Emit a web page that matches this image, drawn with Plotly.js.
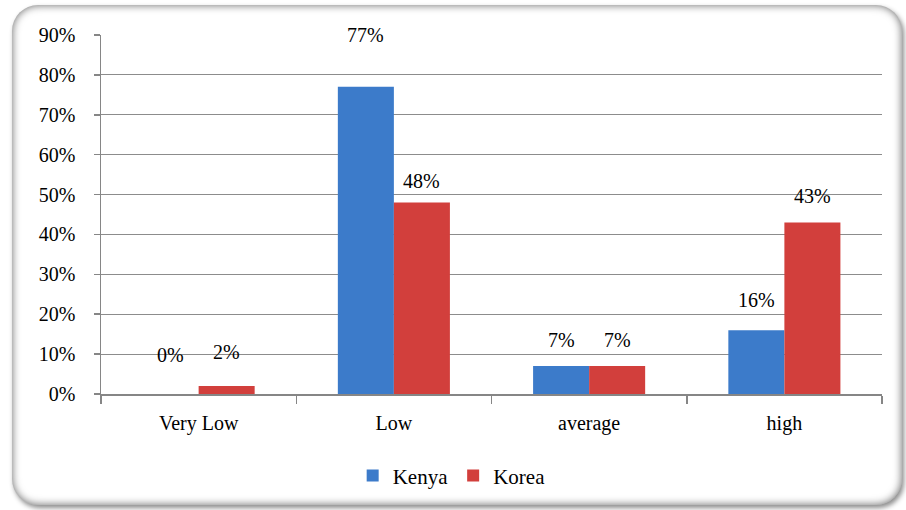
<!DOCTYPE html>
<html>
<head>
<meta charset="utf-8">
<script src="https://cdn.plot.ly/plotly-3.0.1.min.js"></script>
<style>
  html, body { margin: 0; padding: 0; background: #ffffff; }
  #frame {
    position: absolute; left: 12px; top: 5px; width: 890px; height: 500px;
    border-radius: 26px; background: #ffffff;
    box-shadow: inset 0 0 9px rgba(0,0,0,0.6), 2px 3px 5px rgba(0,0,0,0.45);
  }
  #chart { position: absolute; left: 0; top: 0; width: 906px; height: 510px; }
  #chart text { font-family: 'Liberation Serif', serif !important; }
</style>
</head>
<body>
<div id="frame"></div>
<div id="chart"></div>
<script>
// Rating categories and the share (%) of respondents in each country
const categories = ['Very Low', 'Low', 'average', 'high'];
const kenya = [0, 77, 7, 16];
const korea = [2, 48, 7, 43];

// Vertical offset (px) of each value label above its bar top
const kenyaLift = [39, 52, 26, 30];
const koreaLift = [34, 22, 26, 26];

const FONT = 'Liberation Serif';

const traces = [
  {
    type: 'bar', name: 'Kenya', x: categories, y: kenya,
    marker: { color: '#3c7bca', line: { color: '#2c5e9e', width: 0 } },
    hoverinfo: 'none'
  },
  {
    type: 'bar', name: 'Korea', x: categories, y: korea,
    marker: { color: '#d23f3c', line: { color: '#a12c2a', width: 0 } },
    hoverinfo: 'none'
  }
];

const annotations = [];
categories.forEach((c, i) => {
  annotations.push({
    x: c, y: kenya[i], text: kenya[i] + '%', showarrow: false,
    xshift: -28, yshift: kenyaLift[i], yanchor: 'middle',
    font: { family: FONT, size: 20, color: '#000' }
  });
  annotations.push({
    x: c, y: korea[i], text: korea[i] + '%', showarrow: false,
    xshift: 28, yshift: koreaLift[i], yanchor: 'middle',
    font: { family: FONT, size: 20, color: '#000' }
  });
});

const layout = {
  width: 906, height: 510,
  margin: { l: 101, r: 24, t: 35, b: 116 },
  paper_bgcolor: 'rgba(0,0,0,0)',
  plot_bgcolor: 'rgba(0,0,0,0)',
  barmode: 'group',
  bargap: 0.426,
  bargroupgap: 0,
  font: { family: FONT, size: 20, color: '#000' },
  showlegend: true,
  legend: {
    orientation: 'h', x: 0.449, xanchor: 'center', y: -0.228, yanchor: 'middle',
    font: { family: FONT, size: 21, color: '#000' },
    itemwidth: 30, traceorder: 'normal'
  },
  xaxis: {
    type: 'category',
    showline: true, linecolor: '#868686', linewidth: 1.5,
    ticks: 'outside', tickson: 'boundaries', ticklen: 8, tickcolor: '#868686', tickwidth: 1.5,
    ticklabelstandoff: 10,
    showgrid: false, zeroline: false,
    tickfont: { family: FONT, size: 20, color: '#000' }
  },
  yaxis: {
    range: [0, 90], dtick: 10, ticksuffix: '%',
    showline: true, linecolor: '#868686', linewidth: 1.5,
    ticks: 'outside', ticklen: 6, tickcolor: '#868686', tickwidth: 1.5,
    ticklabelstandoff: 14,
    showgrid: true, gridcolor: '#8c8c8c', gridwidth: 1,
    zeroline: false,
    tickfont: { family: FONT, size: 20, color: '#000' }
  },
  annotations: annotations
};

Plotly.newPlot('chart', traces, layout, { displayModeBar: false, staticPlot: true });
</script>
</body>
</html>
